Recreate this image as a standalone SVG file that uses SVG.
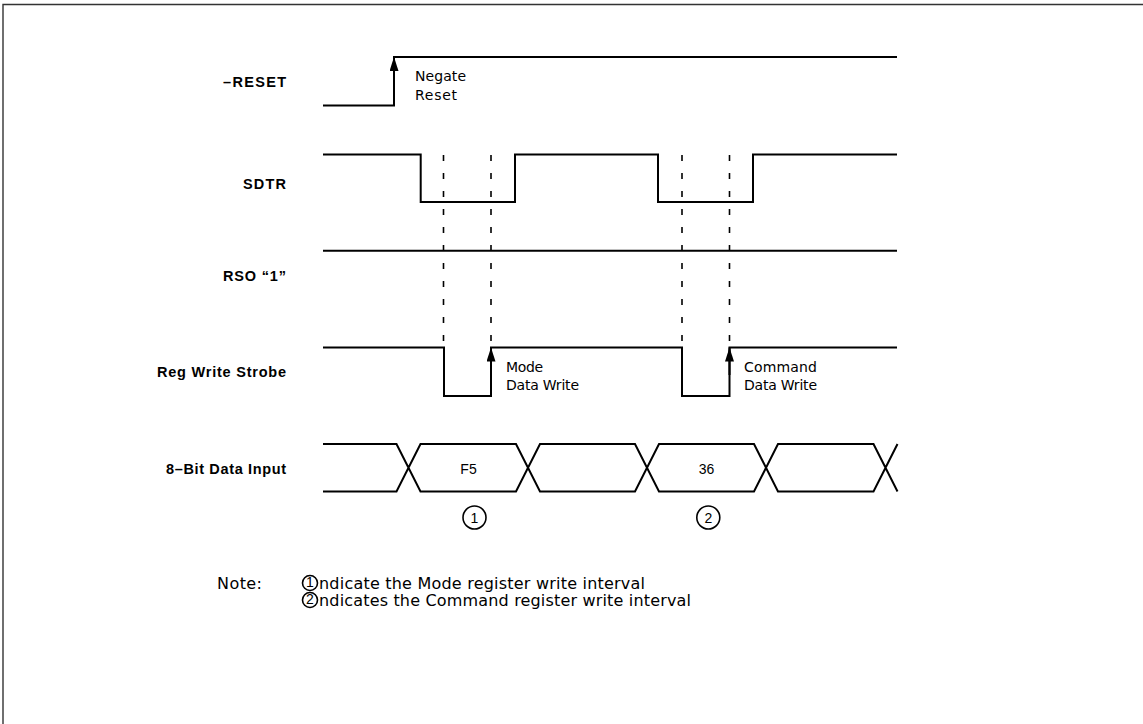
<svg xmlns="http://www.w3.org/2000/svg" width="1143" height="724" viewBox="0 0 1143 724">
<style>
.sig{fill:none;stroke:#000;stroke-width:2;stroke-linejoin:miter}
.dash{fill:none;stroke:#000;stroke-width:1.6;stroke-dasharray:6 12}
.lbl{font-family:"Liberation Sans",Arial,sans-serif;font-weight:bold;font-size:14.5px;fill:#000;text-anchor:end}
.txt{font-family:"DejaVu Sans","Liberation Sans",sans-serif;font-size:14px;fill:#000}
.val{font-family:"Liberation Sans",Arial,sans-serif;font-size:14px;fill:#000;text-anchor:middle}
.note{font-family:"DejaVu Sans","Liberation Sans",sans-serif;font-size:16px;fill:#000}
.circ{fill:none;stroke:#000;stroke-width:1.6}
</style>
<defs>
<marker id="ah" viewBox="0 0 14 9" refX="14" refY="4.5" markerWidth="14" markerHeight="9" markerUnits="userSpaceOnUse" orient="auto">
<path d="M0,0 L14,4.5 L0,9 z" fill="#000"/>
</marker>
</defs>
<rect width="1143" height="724" fill="#fff"/>
<path d="M3,724 V4.5 H1143" fill="none" stroke="#333" stroke-width="1.4"/>

<g id="reset">
<text class="lbl" x="286" y="87" textLength="63">–RESET</text>
<polyline class="sig" points="323,105.5 394,105.5 394,57 897,57"/>
<line x1="394" y1="85" x2="394" y2="57" stroke="#000" stroke-width="2" marker-end="url(#ah)"/>
<text class="txt" x="415" y="81" textLength="51">Negate</text>
<text class="txt" x="415" y="99.5" textLength="42">Reset</text>
</g>

<g id="sdtr">
<text class="lbl" x="286" y="188.5" textLength="43">SDTR</text>
<polyline class="sig" points="323,154.5 420.7,154.5 420.7,202 515,202 515,154.5 658,154.5 658,202 753,202 753,154.5 897,154.5"/>
</g>

<g id="rso">
<text class="lbl" x="286" y="281" textLength="63">RSO “1”</text>
<line class="sig" x1="323" y1="250.7" x2="897" y2="250.7"/>
</g>

<g id="strobe">
<text class="lbl" x="286" y="377" textLength="129">Reg Write Strobe</text>
<polyline class="sig" points="323,347.5 444,347.5 444,396 491,396 491,347.5 682,347.5 682,396 729.5,396 729.5,347.5 897,347.5"/>
<line x1="491" y1="375" x2="491" y2="347.5" stroke="#000" stroke-width="2" marker-end="url(#ah)"/>
<line x1="729.5" y1="375" x2="729.5" y2="347.5" stroke="#000" stroke-width="2" marker-end="url(#ah)"/>
<text class="txt" x="506" y="371.5" textLength="37">Mode</text>
<text class="txt" x="506" y="390" textLength="73">Data Write</text>
<text class="txt" x="744" y="371.5" textLength="73">Command</text>
<text class="txt" x="744" y="390" textLength="73">Data Write</text>
</g>

<g id="data">
<text class="lbl" x="286" y="474" textLength="120">8–Bit Data Input</text>
<path class="sig" d="M323,444 H396.5 L420.5,491.5 H516 L540,444 H635 L659,491.5 H754 L778,444 H873.5 L897.5,491.5
M323,491.5 H396.5 L420.5,444 H516 L540,491.5 H635 L659,444 H754 L778,491.5 H873.5 L897.5,444"/>
<text class="val" x="468.5" y="474">F5</text>
<text class="val" x="706.5" y="474">36</text>
</g>

<g id="marker1">
<circle class="circ" cx="474.5" cy="517.5" r="11.5"/>
<text class="val" x="474.5" y="522.5">1</text>
</g>
<g id="marker2">
<circle class="circ" cx="708.3" cy="517.5" r="11.5"/>
<text class="val" x="708.3" y="522.5">2</text>
</g>

<g id="connectors">
<line class="dash" x1="443.5" y1="155" x2="443.5" y2="347"/>
<line class="dash" x1="491" y1="155" x2="491" y2="347"/>
<line class="dash" x1="682" y1="155" x2="682" y2="347"/>
<line class="dash" x1="729.5" y1="155" x2="729.5" y2="347"/>
</g>

<g id="notes">
<text class="note" x="217" y="589" textLength="45">Note:</text>
<circle class="circ" cx="310" cy="583" r="7.5"/>
<text class="val" x="310" y="587" font-size="10">1</text>
<text class="note" x="319" y="589" textLength="326">ndicate the Mode register write interval</text>
<circle class="circ" cx="310" cy="600" r="7.5"/>
<text class="val" x="310" y="604" font-size="10">2</text>
<text class="note" x="319" y="606" textLength="372">ndicates the Command register write interval</text>
</g>
</svg>
